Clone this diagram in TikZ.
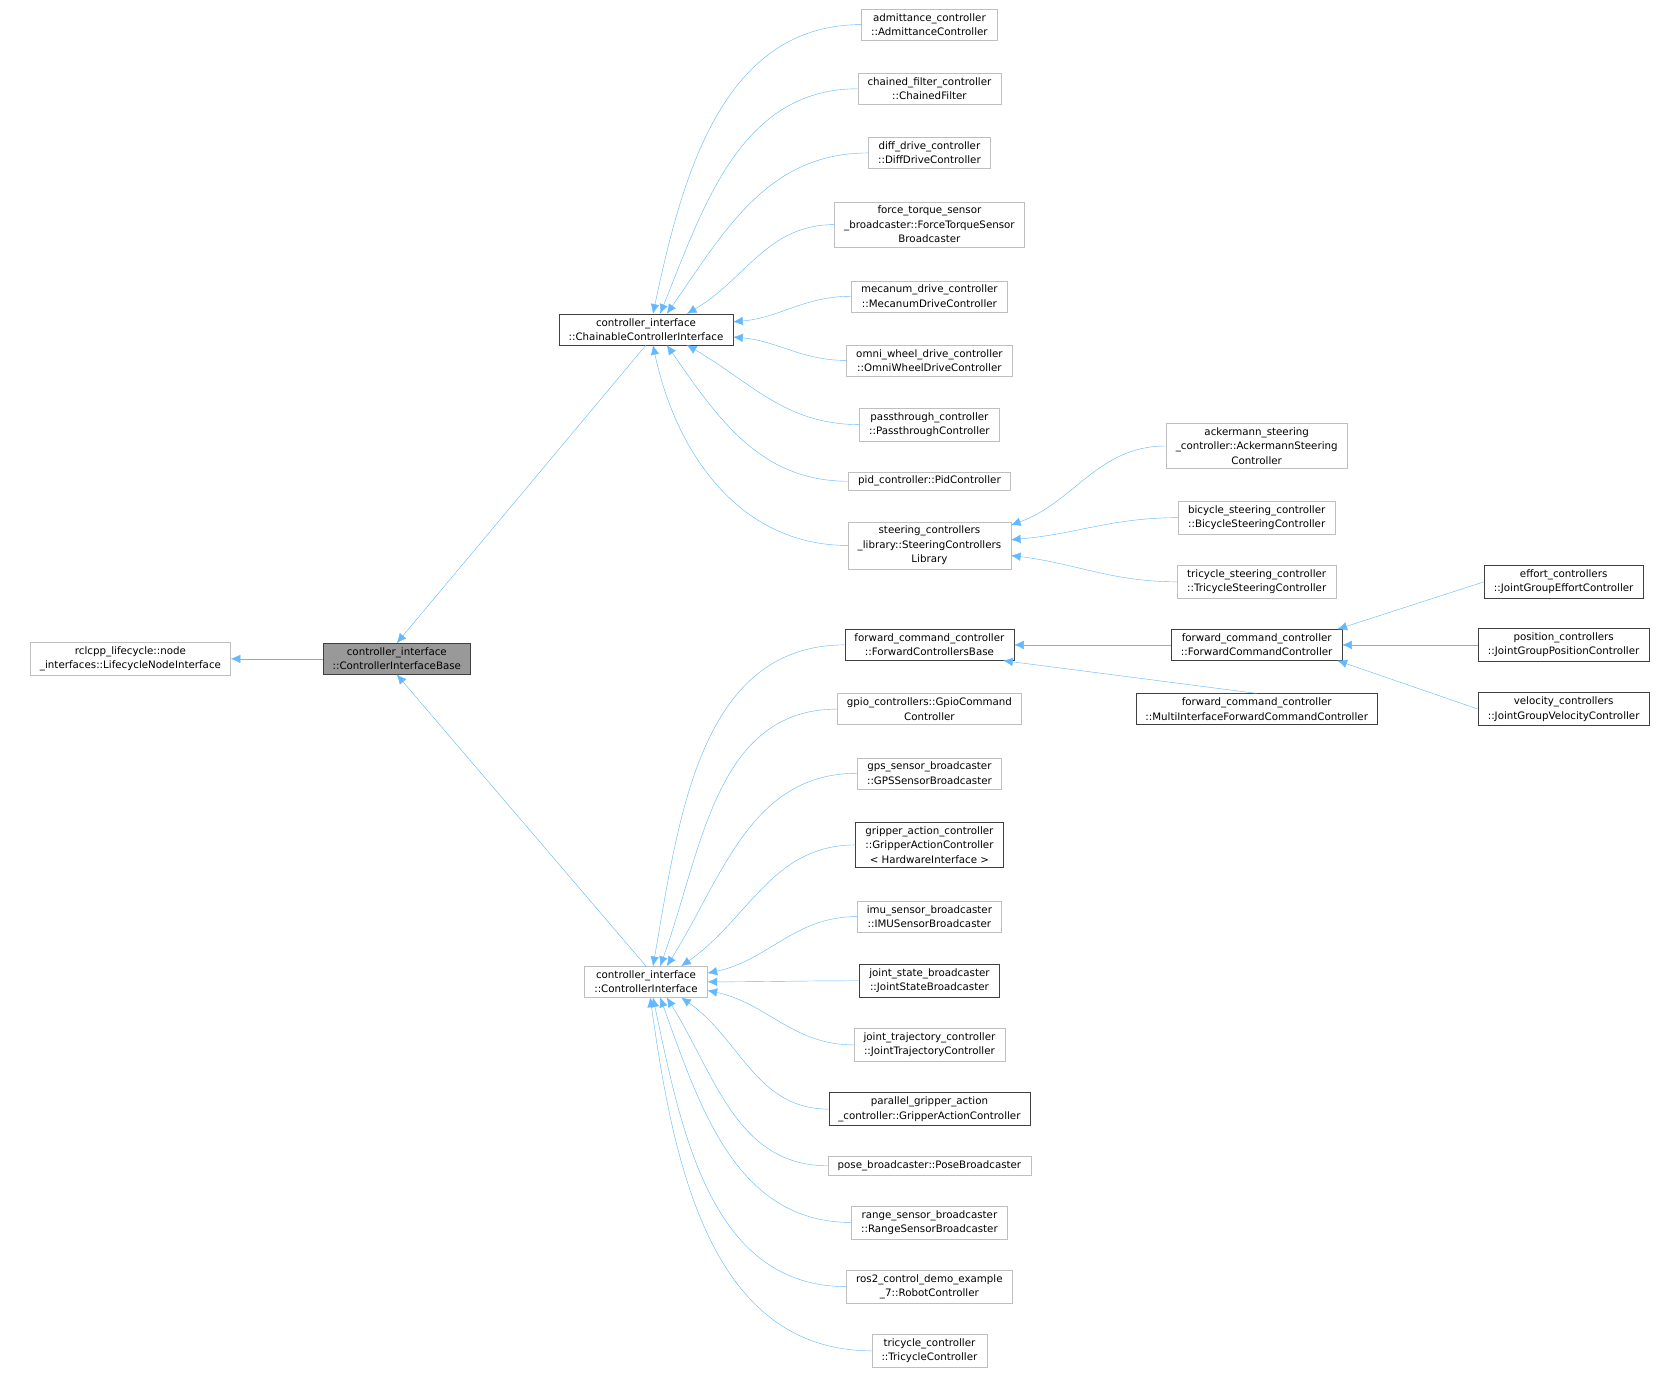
\documentclass[tikz,border=0pt]{standalone}
\usepackage{fontspec}
\setmainfont{DejaVu Sans}
\usetikzlibrary{arrows.meta,positioning}
\definecolor{edgeblue}{HTML}{63B8FF}
\definecolor{lightframe}{HTML}{BFBFBF}
\definecolor{darkframe}{HTML}{404040}
\tikzset{
  cls/.style={draw=lightframe, fill=white, align=center, inner xsep=9pt, inner ysep=4pt,
    font=\fontsize{9.6}{13.5}\selectfont},
  dcls/.style={cls, draw=darkframe},
  edge/.style={draw=edgeblue, {Latex[length=9pt,width=8pt]}-}
}
\begin{document}
\begin{tikzpicture}[x=1pt,y=-1pt]
\useasboundingbox (0,0) rectangle (1568,1290);
% left part
\node[cls] (rcl) at (122,616) {rclcpp\_lifecycle::node\\\_interfaces::LifecycleNodeInterface};
\node[dcls, fill=black!40] (base) at (371,616) {controller\_interface\\::ControllerInterfaceBase};
\node[dcls] (chain) at (604,308) {controller\_interface\\::ChainableControllerInterface};
\node[cls] (ctrl) at (604,918) {controller\_interface\\::ControllerInterface};
% chainable children
\node[cls] (adm) at (869,23) {admittance\_controller\\::AdmittanceController};
\node[cls] (chf) at (869,83) {chained\_filter\_controller\\::ChainedFilter};
\node[cls] (diff) at (869,143) {diff\_drive\_controller\\::DiffDriveController};
\node[cls] (ft) at (869,210) {force\_torque\_sensor\\\_broadcaster::ForceTorqueSensor\\Broadcaster};
\node[cls] (mec) at (869,277) {mecanum\_drive\_controller\\::MecanumDriveController};
\node[cls] (omni) at (869,337) {omni\_wheel\_drive\_controller\\::OmniWheelDriveController};
\node[cls] (pass) at (869,397) {passthrough\_controller\\::PassthroughController};
\node[cls] (pid) at (869,450) {pid\_controller::PidController};
\node[cls] (steer) at (869,510) {steering\_controllers\\\_library::SteeringControllers\\Library};
% steering children
\node[cls] (ack) at (1175,417) {ackermann\_steering\\\_controller::AckermannSteering\\Controller};
\node[cls] (bic) at (1175,484) {bicycle\_steering\_controller\\::BicycleSteeringController};
\node[cls] (tris) at (1175,544) {tricycle\_steering\_controller\\::TricycleSteeringController};
% controller interface children
\node[dcls] (fwdb) at (869,603) {forward\_command\_controller\\::ForwardControllersBase};
\node[cls] (gpio) at (869,663) {gpio\_controllers::GpioCommand\\Controller};
\node[cls] (gps) at (869,723) {gps\_sensor\_broadcaster\\::GPSSensorBroadcaster};
\node[dcls] (grip) at (869,790) {gripper\_action\_controller\\::GripperActionController\\< HardwareInterface >};
\node[cls] (imu) at (869,857) {imu\_sensor\_broadcaster\\::IMUSensorBroadcaster};
\node[dcls] (jsb) at (869,917) {joint\_state\_broadcaster\\::JointStateBroadcaster};
\node[cls] (jtc) at (869,977) {joint\_trajectory\_controller\\::JointTrajectoryController};
\node[dcls] (pgrip) at (869,1037) {parallel\_gripper\_action\\\_controller::GripperActionController};
\node[cls] (pose) at (869,1090) {pose\_broadcaster::PoseBroadcaster};
\node[cls] (range) at (869,1143) {range\_sensor\_broadcaster\\::RangeSensorBroadcaster};
\node[cls] (ros) at (869,1203) {ros2\_control\_demo\_example\\\_7::RobotController};
\node[cls] (tri) at (869,1263) {tricycle\_controller\\::TricycleController};
% forward command children
\node[dcls] (fwdc) at (1175,603) {forward\_command\_controller\\::ForwardCommandController};
\node[dcls] (multi) at (1175,663) {forward\_command\_controller\\::MultiInterfaceForwardCommandController};
\node[dcls] (eff) at (1462,544) {effort\_controllers\\::JointGroupEffortController};
\node[dcls] (pos) at (1462,603) {position\_controllers\\::JointGroupPositionController};
\node[dcls] (vel) at (1462,663) {velocity\_controllers\\::JointGroupVelocityController};
% edges
\draw[edge] (rcl.east) -- (base.west);
\draw[edge] (base.north) -- (chain.south);
\draw[edge] (base.south) -- (ctrl.north);
\foreach \c/\a/\o in {adm/66/78, chf/48/68, diff/37/55, ft/21/30, mec/5/5,
    omni/-5/-5, pass/-21/-30, pid/-37/-55, steer/-66/-78}
  \draw[edge] (chain.\a) to[out=\o,in=180] (\c.west);
\foreach \c/\a/\o in {fwdb/66/80, gpio/48/70, gps/37/58, grip/24/35, imu/8/12, jsb/0/0,
    jtc/-8/-12, pgrip/-24/-35, pose/-37/-58, range/-48/-70, ros/-66/-78, tri/-75/-82}
  \draw[edge] (ctrl.\a) to[out=\o,in=180] (\c.west);
\foreach \c/\a/\o in {ack/14/20, bic/4/5, tris/-7/-7}
  \draw[edge] (steer.\a) to[out=\o,in=180] (\c.west);
\draw[edge] (fwdb.east) -- (fwdc.west);
\draw[edge] (fwdb.-12) -- (multi.north);
\foreach \c/\a in {eff/11, pos/0, vel/-11}
  \draw[edge] (fwdc.\a) -- (\c.west);
\end{tikzpicture}
\end{document}
